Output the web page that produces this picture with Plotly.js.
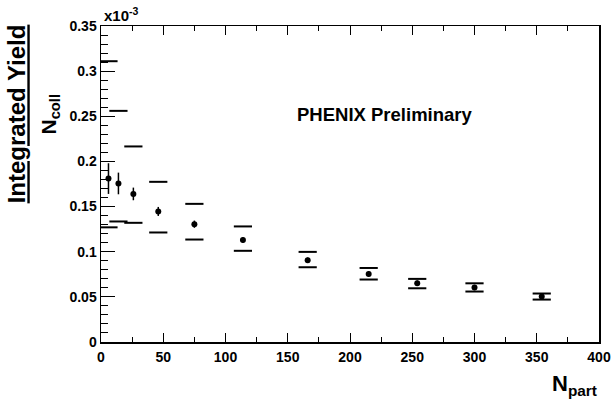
<!DOCTYPE html>
<html>
<head>
<meta charset="utf-8">
<script src="https://cdn.plot.ly/plotly-3.0.1.min.js"></script>
<style>html,body{margin:0;padding:0;background:#fff;}#chart{width:613px;height:400px;}</style>
</head>
<body>
<div id="chart"></div>
<script>
// Values in units of 1e-3
var nPart   = [6, 14, 26, 46, 75, 114, 166, 215, 254, 300, 354];
var yieldPerNcoll = [0.181, 0.1756, 0.164, 0.1446, 0.1305, 0.113, 0.0906, 0.0754, 0.065, 0.0603, 0.0503];
var statErr = [0.017, 0.012, 0.007, 0.005, 0.004, 0.003, 0.003, 0.003, 0.003, 0.003, 0.003];
var sysHigh = [0.311, 0.256, 0.2166, 0.1774, 0.153, 0.128, 0.0998, 0.082, 0.0699, 0.065, 0.0537];
var sysLow  = [0.127, 0.1335, 0.132, 0.1213, 0.1135, 0.101, 0.0828, 0.0692, 0.0595, 0.0559, 0.047];

var FONT = 'Liberation Sans';

var sysStyle = {symbol: 'line-ew', size: 13, line: {width: 2, color: '#000'}, color: '#000'};

var traces = [
  {x: nPart, y: sysHigh, type: 'scatter', mode: 'markers', marker: sysStyle, hoverinfo: 'skip'},
  {x: nPart, y: sysLow,  type: 'scatter', mode: 'markers', marker: sysStyle, hoverinfo: 'skip'},
  {x: nPart, y: yieldPerNcoll, type: 'scatter', mode: 'markers',
   marker: {symbol: 'circle', size: 6, color: '#000'},
   error_y: {type: 'data', array: statErr, visible: true, width: 0, thickness: 1.5, color: '#000'}}
];

var axisFont = {family: FONT, size: 14, color: '#000', weight: 700};

var layout = {
  width: 613, height: 400,
  margin: {l: 101, r: 14, t: 26, b: 58, pad: 0},
  paper_bgcolor: '#fff', plot_bgcolor: '#fff',
  showlegend: false,
  font: {family: FONT, color: '#000', weight: 700},
  xaxis: {
    range: [0, 400], dtick: 50, tick0: 0,
    ticks: 'inside', ticklen: 9, tickwidth: 1, tickcolor: '#000',
    minor: {ticks: 'inside', dtick: 25, ticklen: 5, tickwidth: 1, tickcolor: '#000'},
    showgrid: false, zeroline: false,
    showline: true, linewidth: 1.5, linecolor: '#000', mirror: 'ticks',
    tickfont: axisFont, ticklabelstandoff: 2
  },
  yaxis: {
    range: [0, 0.35], dtick: 0.05, tick0: 0,
    ticks: 'inside', ticklen: 14, tickwidth: 1, tickcolor: '#000',
    minor: {ticks: 'inside', dtick: 0.01, ticklen: 7, tickwidth: 1, tickcolor: '#000'},
    showgrid: false, zeroline: false,
    showline: true, linewidth: 1.5, linecolor: '#000', mirror: true,
    tickfont: axisFont, ticklabelstandoff: 0
  },
  annotations: [
    {text: '<b>x10<sup>-3</sup></b>', xref: 'paper', yref: 'paper', x: 0.002, y: 1.0,
     xanchor: 'left', yanchor: 'bottom', showarrow: false,
     font: {family: FONT, size: 15, color: '#000'}},
    {text: '<b>PHENIX Preliminary</b>', xref: 'paper', yref: 'paper', x: 0.570, y: 0.7215,
     xanchor: 'center', yanchor: 'middle', showarrow: false,
     font: {family: FONT, size: 18.5, color: '#000'}},
    {text: '<b>N<sub>part</sub></b>', xref: 'paper', yref: 'paper', x: 0.950, y: -0.136,
     xanchor: 'center', yanchor: 'middle', showarrow: false,
     font: {family: FONT, size: 22, color: '#000'}},
    {text: '<b><u>Integrated Yield</u></b>', xref: 'paper', yref: 'paper', x: -0.170, y: 0.7215,
     xanchor: 'center', yanchor: 'middle', textangle: -90, showarrow: false,
     font: {family: FONT, size: 24, color: '#000'}},
    {text: '<b>N<sub>coll</sub></b>', xref: 'paper', yref: 'paper', x: -0.1024, y: 0.72,
     xanchor: 'center', yanchor: 'middle', textangle: -90, showarrow: false,
     font: {family: FONT, size: 21, color: '#000'}}
  ]
};

Plotly.newPlot('chart', traces, layout, {displayModeBar: false, staticPlot: true});
</script>
</body>
</html>
